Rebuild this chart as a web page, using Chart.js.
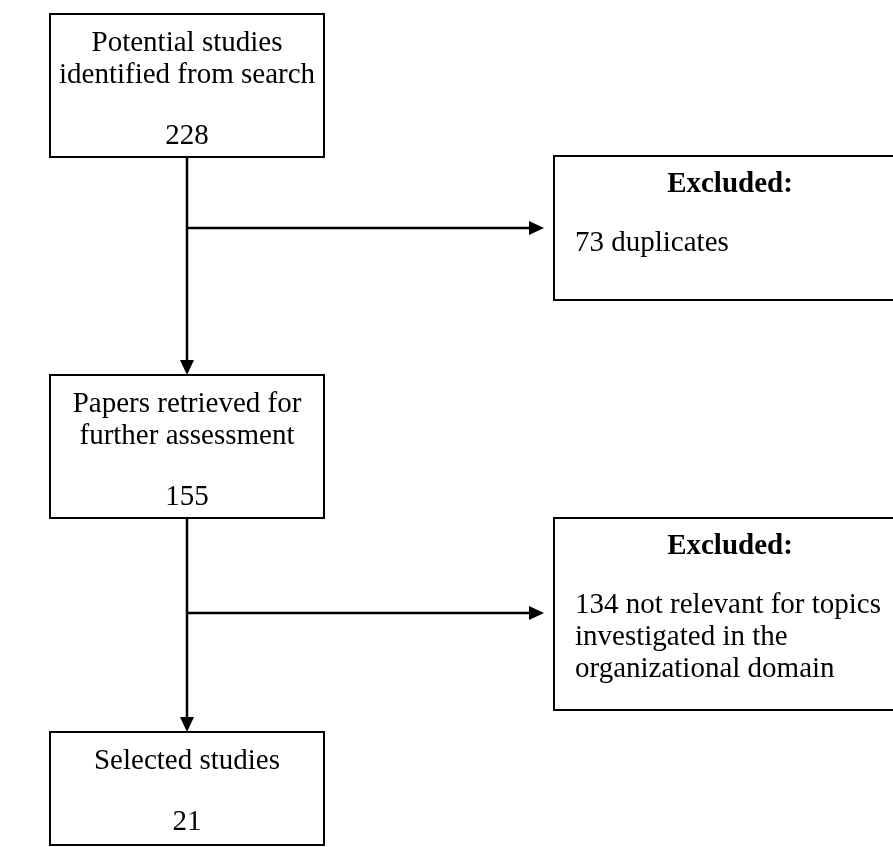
<!DOCTYPE html>
<html>
<head>
<meta charset="utf-8">
<script src="https://cdn.jsdelivr.net/npm/chart.js@4/dist/chart.umd.min.js"></script>
<style>
  html, body { margin: 0; padding: 0; background: #fff; }
  canvas { display: block; }
</style>
</head>
<body>
<canvas id="flow" width="893" height="847"></canvas>
<script>
// flow data
const stages = ['Potential studies\nidentified from search', 'Papers retrieved for\nfurther assessment', 'Selected studies']
const stageCounts = [228, 155, 21]
const excludedTitle = 'Excluded:'
const excludedCounts = [73, 134]
const excludedReasons = ['duplicates', 'not relevant for topics\ninvestigated in the\norganizational domain']

// layout in canvas units (x: 0..893, y: 0..847 top-down)
const mainBoxes = [
  { x0: 50, x1: 324, y0: 14, y1: 157 },
  { x0: 50, x1: 324, y0: 375, y1: 518 },
  { x0: 50, x1: 324, y0: 732, y1: 845 },
]
const sideBoxes = [
  { x0: 554, x1: 906, y0: 156, y1: 300 },
  { x0: 554, x1: 906, y0: 518, y1: 710 },
]
const branchY = [228, 613]
const spineX = 187

const font = '"Liberation Serif", "Times New Roman", serif'
const fontSize = 29
const lineH = 32

const flowPlugin = {
  id: 'flow',
  afterDraw: chart => {
    const ctx = chart.ctx
    const px = v => chart.scales.x.getPixelForValue(v)
    const py = v => chart.scales.y.getPixelForValue(v)

    const box = b => {
      ctx.lineWidth = 2
      ctx.strokeStyle = '#000'
      ctx.strokeRect(px(b.x0), py(b.y0), px(b.x1) - px(b.x0), py(b.y1) - py(b.y0))
    }
    const arrow = (x0, y0, x1, y1) => {
      const X0 = px(x0), Y0 = py(y0), X1 = px(x1), Y1 = py(y1)
      const a = Math.atan2(Y1 - Y0, X1 - X0)
      const len = 15, hw = 7
      ctx.strokeStyle = '#000'
      ctx.lineWidth = 2.5
      ctx.beginPath()
      ctx.moveTo(X0, Y0)
      ctx.lineTo(X1 - Math.cos(a) * len, Y1 - Math.sin(a) * len)
      ctx.stroke()
      ctx.fillStyle = '#000'
      ctx.beginPath()
      ctx.moveTo(X1, Y1)
      ctx.lineTo(X1 - Math.cos(a) * len - Math.sin(a) * hw, Y1 - Math.sin(a) * len + Math.cos(a) * hw)
      ctx.lineTo(X1 - Math.cos(a) * len + Math.sin(a) * hw, Y1 - Math.sin(a) * len - Math.cos(a) * hw)
      ctx.closePath()
      ctx.fill()
    }

    ctx.save()
    ctx.fillStyle = '#fff'
    ctx.fillRect(0, 0, chart.width, chart.height)

    // main stage boxes
    ctx.textBaseline = 'middle'
    stages.forEach((label, i) => {
      const b = mainBoxes[i]
      box(b)
      const cx = (b.x0 + b.x1) / 2
      const lines = label.split('\n')
      ctx.fillStyle = '#000'
      ctx.font = `${fontSize}px ${font}`
      ctx.textAlign = 'center'
      lines.forEach((t, k) => ctx.fillText(t, px(cx), py(b.y0 + 29 + k * lineH)))
      ctx.fillText(String(stageCounts[i]), px(cx), py(b.y0 + 29 + (lines.length + 1) * lineH - 3))
    })

    // excluded boxes
    excludedCounts.forEach((n, i) => {
      const b = sideBoxes[i]
      box(b)
      ctx.fillStyle = '#000'
      ctx.textAlign = 'center'
      ctx.font = `bold ${fontSize}px ${font}`
      ctx.fillText(excludedTitle, px((b.x0 + b.x1) / 2), py(b.y0 + 29))
      ctx.font = `${fontSize}px ${font}`
      ctx.textAlign = 'left'
      const lines = (n + ' ' + excludedReasons[i]).split('\n')
      lines.forEach((t, k) => ctx.fillText(t, px(b.x0 + 21), py(b.y0 + 87 + k * lineH)))
    })

    // connectors: spine down to next stage, branch out to the excluded box
    for (let i = 0; i < 2; i++) {
      arrow(spineX, mainBoxes[i].y1, spineX, mainBoxes[i + 1].y0)
      arrow(spineX, branchY[i], sideBoxes[i].x0 - 10, branchY[i])
    }
    ctx.restore()
  },
}

new Chart(document.getElementById('flow'), {
  type: 'scatter',
  data: { datasets: [] },
  plugins: [flowPlugin],
  options: {
    animation: false,
    responsive: false,
    layout: { padding: 0 },
    plugins: { legend: { display: false }, tooltip: { enabled: false } },
    scales: {
      x: { display: false, min: 0, max: 893 },
      y: { display: false, min: 0, max: 847, reverse: true },
    },
  },
})
</script>
</body>
</html>
